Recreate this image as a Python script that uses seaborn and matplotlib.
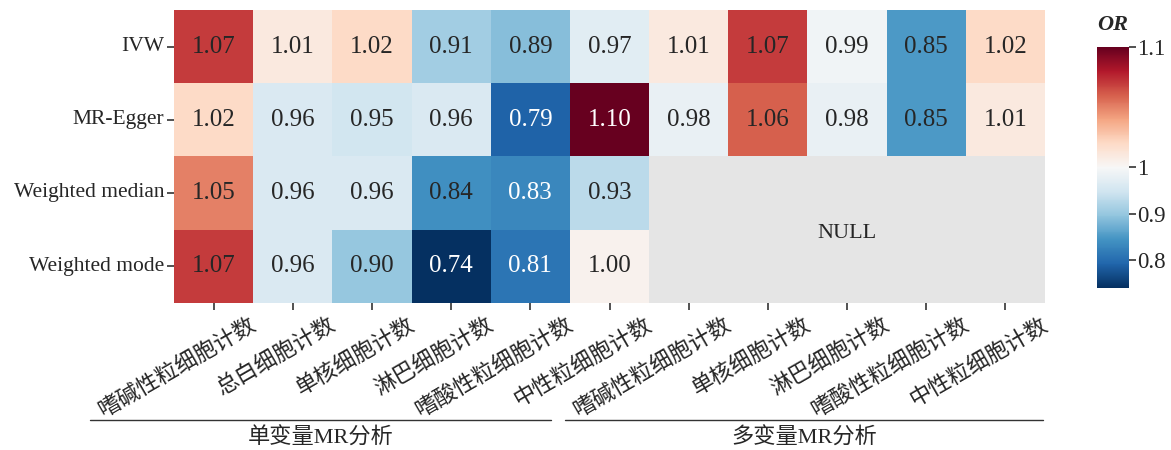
import numpy as np
import pandas as pd
import seaborn as sns
import matplotlib
matplotlib.use("Agg")
import matplotlib.pyplot as plt
import matplotlib.transforms as mtrans
from matplotlib.colors import TwoSlopeNorm
from matplotlib.lines import Line2D
from matplotlib.ticker import FixedLocator, FixedFormatter

methods = ["IVW", "MR-Egger", "Weighted median", "Weighted mode"]
exposures = ["嗜碱性粒细胞计数", "总白细胞计数", "单核细胞计数", "淋巴细胞计数",
             "嗜酸性粒细胞计数", "中性粒细胞计数",
             "嗜碱性粒细胞计数", "单核细胞计数", "淋巴细胞计数",
             "嗜酸性粒细胞计数", "中性粒细胞计数"]
ivw = [1.07, 1.01, 1.02, 0.91, 0.89, 0.97, 1.01, 1.07, 0.99, 0.85, 1.02]
mr_egger = [1.02, 0.96, 0.95, 0.96, 0.79, 1.10, 0.98, 1.06, 0.98, 0.85, 1.01]
w_median = [1.05, 0.96, 0.96, 0.84, 0.83, 0.93, np.nan, np.nan, np.nan, np.nan, np.nan]
w_mode = [1.07, 0.96, 0.90, 0.74, 0.81, 1.004, np.nan, np.nan, np.nan, np.nan, np.nan]
groups = ["单变量MR分析", "多变量MR分析"]
cbar_ticks = [0.8, 0.9, 1.0, 1.1]
cbar_labels = ["0.8", "0.9", "1", "1.1"]

sns.set_theme(style="white")
FAM = ["Liberation Serif", "Noto Sans CJK SC", "DejaVu Sans"]
plt.rcParams["font.family"] = FAM
plt.rcParams["axes.unicode_minus"] = False

data = np.array([ivw, mr_egger, w_median, w_mode])
df = pd.DataFrame(data, index=methods, columns=range(len(exposures)))

fig = plt.figure(figsize=(11.71, 4.5), dpi=100)
ax = fig.add_axes([0.1486, 0.327, 0.7438, 0.651])
cax = fig.add_axes([0.9368, 0.36, 0.0273, 0.5356])
ax.set_facecolor("#e5e5e5")

norm = TwoSlopeNorm(vmin=0.74, vcenter=1.0, vmax=1.10)
sns.heatmap(df, ax=ax, cbar_ax=cax, cmap="RdBu_r", norm=norm,
            annot=True, fmt=".2f",
            annot_kws={"fontsize": 18, "family": FAM})

for t in ax.texts:
    v = float(t.get_text())
    t.set_color("white" if (v < 0.835 or v > 1.08) else "#262626")

# NULL region label
ax.text(8.5, 3.05, "NULL", ha="center", va="center", fontsize=16,
        color="#262626", family=FAM)

ax.set_xlabel("")
ax.set_ylabel("")
ax.tick_params(axis="both", which="both", length=5, width=1.2, color="#333333",
               bottom=True, left=True, pad=2)
ax.set_xticks(np.arange(len(exposures)) + 0.5)
ax.set_xticklabels(exposures, rotation=30, ha="right", rotation_mode="anchor",
                   fontsize=16, color="#262626")
ax.set_yticks(np.arange(len(methods)) + 0.5)
ax.set_yticklabels(methods, rotation=0, fontsize=15.5, color="#262626")
offset = mtrans.ScaledTranslation(0.36, -0.02, fig.dpi_scale_trans)
for lbl in ax.get_xticklabels():
    lbl.set_transform(lbl.get_transform() + offset)

cb = ax.collections[0].colorbar
cax.yaxis.set_major_locator(FixedLocator(cbar_ticks))
cax.yaxis.set_major_formatter(FixedFormatter(cbar_labels))
cax.tick_params(axis="y", length=5, width=1.2, color="#333333", labelsize=16.5,
                labelcolor="#262626", right=True, pad=1)
cb.outline.set_linewidth(0)
cax.set_title("OR", fontsize=16, fontweight="bold", style="italic", pad=12,
              color="#262626")

# Group brackets below x labels
line_y = 1 - 420 / 450
fig.add_artist(Line2D([90 / 1171, 551 / 1171], [line_y, line_y],
                      transform=fig.transFigure, color="#333333", lw=1))
fig.add_artist(Line2D([565 / 1171, 1043 / 1171], [line_y, line_y],
                      transform=fig.transFigure, color="#333333", lw=1))
fig.text((90 + 551) / 2 / 1171, 1 - 438 / 450, groups[0], ha="center", va="center",
         fontsize=16, color="#262626", family=FAM)
fig.text((565 + 1043) / 2 / 1171, 1 - 438 / 450, groups[1], ha="center", va="center",
         fontsize=16, color="#262626", family=FAM)

fig.savefig("out.png", dpi=100)
